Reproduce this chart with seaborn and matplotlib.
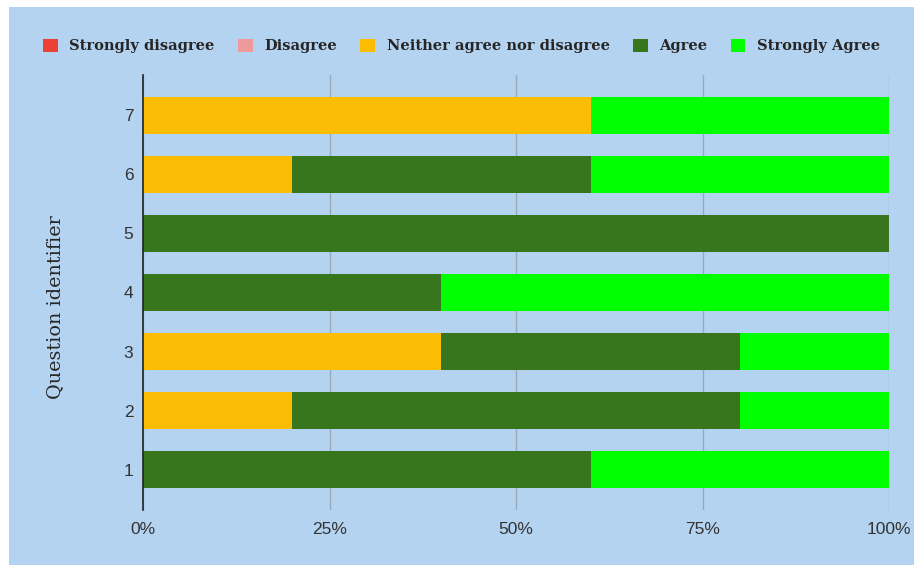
import matplotlib
matplotlib.use("Agg")
import matplotlib.pyplot as plt
from matplotlib.patches import Patch, Rectangle
import seaborn as sns
import pandas as pd
import numpy as np

questions = ["1", "2", "3", "4", "5", "6", "7"]
categories = ["Strongly disagree", "Disagree", "Neither agree nor disagree", "Agree", "Strongly Agree"]
strongly_disagree = [0, 0, 0, 0, 0, 0, 0]
disagree = [0, 0, 0, 0, 0, 0, 0]
neither = [0, 20, 40, 0, 0, 20, 60]
agree = [60, 60, 40, 40, 100, 40, 0]
strongly_agree = [40, 20, 20, 60, 0, 40, 40]
colors = ["#ea4335", "#ef9a9a", "#fbbc04", "#38761d", "#00ff00"]
xticks = [0, 25, 50, 75, 100]
xtick_labels = ["0%", "25%", "50%", "75%", "100%"]

series = [strongly_disagree, disagree, neither, agree, strongly_agree]
df = pd.DataFrame({"q": questions})
cum = np.zeros(len(questions))
for name, vals in zip(categories, series):
    cum = cum + np.array(vals, dtype=float)
    df[name] = cum.copy()

sns.set_style("white")
bg = "#b4d3f0"
fig = plt.figure(figsize=(9.14, 5.65), dpi=100, facecolor="white")
fig.patches.append(Rectangle((9 / 914, 0), 1 - 9 / 914, 1 - 7 / 565, transform=fig.transFigure,
                             facecolor=bg, edgecolor="none", zorder=-10))
ax = fig.add_axes([143 / 914, 1 - 510 / 565, (889 - 143) / 914, (510 - 75) / 565])
ax.set_facecolor(bg)

order = questions[::-1]
for name, col in reversed(list(zip(categories, colors))):
    sns.barplot(data=df, x=name, y="q", order=order, orient="h", color=col,
                width=0.64, saturation=1, ax=ax, zorder=3, edgecolor="none")

ax.set_xlim(0, 100)
ax.set_ylim(6.685, -0.685)
ax.set_xticks(xticks)
ax.set_xticklabels(xtick_labels, fontsize=12.5, color="#333333", family="Liberation Sans")
ax.tick_params(axis="y", labelsize=12.5, labelcolor="#333333", length=0, pad=7)
ax.tick_params(axis="x", length=0, pad=9)
for lab in ax.get_yticklabels():
    lab.set_family("Liberation Sans")
ax.grid(axis="x", color="#9aa8b5", linewidth=1, zorder=1)
ax.grid(axis="y", visible=False)
ax.set_axisbelow(True)
for s in ["top", "right", "bottom"]:
    ax.spines[s].set_visible(False)
ax.spines["left"].set_color("#222222")
ax.spines["left"].set_linewidth(1.2)
ax.spines["left"].set_zorder(5)
ax.set_xlabel("")
ax.set_ylabel("Question identifier", fontsize=13.8, family="DejaVu Serif")
ax.yaxis.set_label_coords((64 - 143) / 746, 0.467)

handles = [Patch(facecolor=c, edgecolor="none") for c in colors]
fig.legend(handles, categories, loc="center", bbox_to_anchor=(0.505, 1 - 46 / 565), ncol=5,
           frameon=False, prop={"family": "DejaVu Serif", "weight": "bold", "size": 10.5},
           handlelength=1.0, handleheight=1.0, handletextpad=0.8, columnspacing=1.6)

fig.savefig("out.png", dpi=100, facecolor="white")
